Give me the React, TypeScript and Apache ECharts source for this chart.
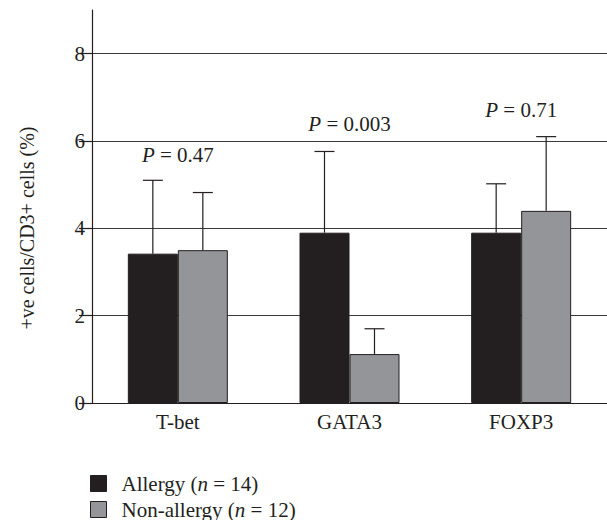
import React, { useEffect, useRef } from "react";
import * as echarts from "echarts";

const categories = ["T-bet", "GATA3", "FOXP3"];
const allergyMeans = [3.42, 3.9, 3.9];
const allergyUpper = [5.1, 5.76, 5.02];
const nonAllergyMeans = [3.5, 1.12, 4.4];
const nonAllergyUpper = [4.82, 1.7, 6.1];
const pValues = ["0.47", "0.003", "0.71"];
const pLabelY = [5.67, 6.38, 6.7];
const yTicks = [0, 2, 4, 6, 8];
const seriesNames = ["Allergy", "Non-allergy"];
const groupSizes = [14, 12];

const FONT = "'Liberation Serif', 'DejaVu Serif', serif";
const DARK = "#231f20";
const GREY = "#939598";

export default function App() {
  const ref = useRef<HTMLDivElement>(null);
  useEffect(() => {
    document.body.style.margin = "0";
    const chart = echarts.init(ref.current!, null, { renderer: "svg" });
    const barW = 50;
    const errSeries = (means: number[], upper: number[], offset: number) => ({
      type: "custom",
      data: means.map((m, i) => [i, m, upper[i]]),
      encode: { x: 0, y: [1, 2] },
      z: 5,
      silent: true,
      renderItem: (params: any, api: any) => {
        const x = api.value(0);
        const p0 = api.coord([x, api.value(1)]);
        const p1 = api.coord([x, api.value(2)]);
        const cx = p0[0] + offset;
        return {
          type: "group",
          children: [
            { type: "line", shape: { x1: cx, y1: p0[1], x2: cx, y2: p1[1] }, style: { stroke: DARK, lineWidth: 1.2 } },
            { type: "line", shape: { x1: cx - 10, y1: p1[1], x2: cx + 10, y2: p1[1] }, style: { stroke: DARK, lineWidth: 1.2 } },
          ],
        };
      },
    });
    const legendFor = (i: number, top: number) => ({
      orient: "vertical",
      left: 90,
      top,
      padding: 0,
      itemWidth: 16,
      itemHeight: 16,
      icon: "rect",
      itemStyle: { borderColor: DARK, borderWidth: 1 },
      data: [seriesNames[i]],
      formatter: (name: string) => `{r|${name} (}{i|n}{r| = ${groupSizes[i]})}`,
      textStyle: {
        fontFamily: FONT,
        fontSize: 21,
        lineHeight: 20,
        color: "#231f20",
        padding: [0, 0, 0, 10],
        rich: {
          r: { fontFamily: FONT, fontSize: 21, lineHeight: 20, color: "#231f20" },
          i: { fontFamily: FONT, fontSize: 21, lineHeight: 20, fontStyle: "italic", color: "#231f20" },
        },
      },
    });
    chart.setOption({
      animation: false,
      textStyle: { fontFamily: FONT },
      grid: { left: 92, right: 0, top: 10, bottom: 117 },
      xAxis: {
        type: "category",
        data: categories,
        axisTick: { show: false },
        axisLine: { lineStyle: { color: DARK, width: 1.2 } },
        axisLabel: { fontFamily: FONT, fontSize: 21, color: "#231f20", margin: 8 },
      },
      yAxis: {
        type: "value",
        min: 0,
        max: 9,
        axisLine: { show: true, lineStyle: { color: DARK, width: 1.2 } },
        axisTick: { show: true, length: 13, customValues: yTicks, lineStyle: { color: DARK, width: 1.2 } },
        axisLabel: { customValues: yTicks, fontFamily: FONT, fontSize: 21, color: "#231f20", margin: 7 },
        splitLine: { show: true, lineStyle: { color: "#3a3a3a", width: 1.2 } },
      },
      legend: [legendFor(0, 473), legendFor(1, 499)],
      graphic: [
        {
          type: "text",
          x: 27,
          y: 228,
          rotation: Math.PI / 2,
          style: {
            text: "+ve cells/CD3+ cells (%)",
            font: `20px ${FONT}`,
            fill: "#231f20",
            align: "center",
            verticalAlign: "middle",
          },
        },
      ],
      series: [
        {
          name: seriesNames[0],
          type: "bar",
          data: allergyMeans,
          barWidth: barW,
          barGap: "0%",
          itemStyle: { color: DARK, borderColor: DARK, borderWidth: 1 },
        },
        {
          name: seriesNames[1],
          type: "bar",
          data: nonAllergyMeans,
          barWidth: barW,
          barGap: "0%",
          itemStyle: { color: GREY, borderColor: DARK, borderWidth: 1 },
        },
        errSeries(allergyMeans, allergyUpper, -barW / 2),
        errSeries(nonAllergyMeans, nonAllergyUpper, barW / 2),
        {
          type: "custom",
          data: pLabelY.map((y, i) => [i, y]),
          encode: { x: 0, y: 1 },
          silent: true,
          z: 6,
          renderItem: (params: any, api: any) => {
            const idx = api.value(0);
            const p = api.coord([idx, api.value(1)]);
            return {
              type: "text",
              x: p[0],
              y: p[1],
              style: {
                text: `{i|P}{r| = ${pValues[params.dataIndex]}}`,
                align: "center",
                verticalAlign: "middle",
                rich: {
                  i: { fontFamily: FONT, fontSize: 21, fontStyle: "italic", fill: "#231f20" },
                  r: { fontFamily: FONT, fontSize: 21, fill: "#231f20" },
                },
              },
            };
          },
        },
      ],
    });
    return () => chart.dispose();
  }, []);
  return <div ref={ref} style={{ width: 607, height: 520 }} />;
}
